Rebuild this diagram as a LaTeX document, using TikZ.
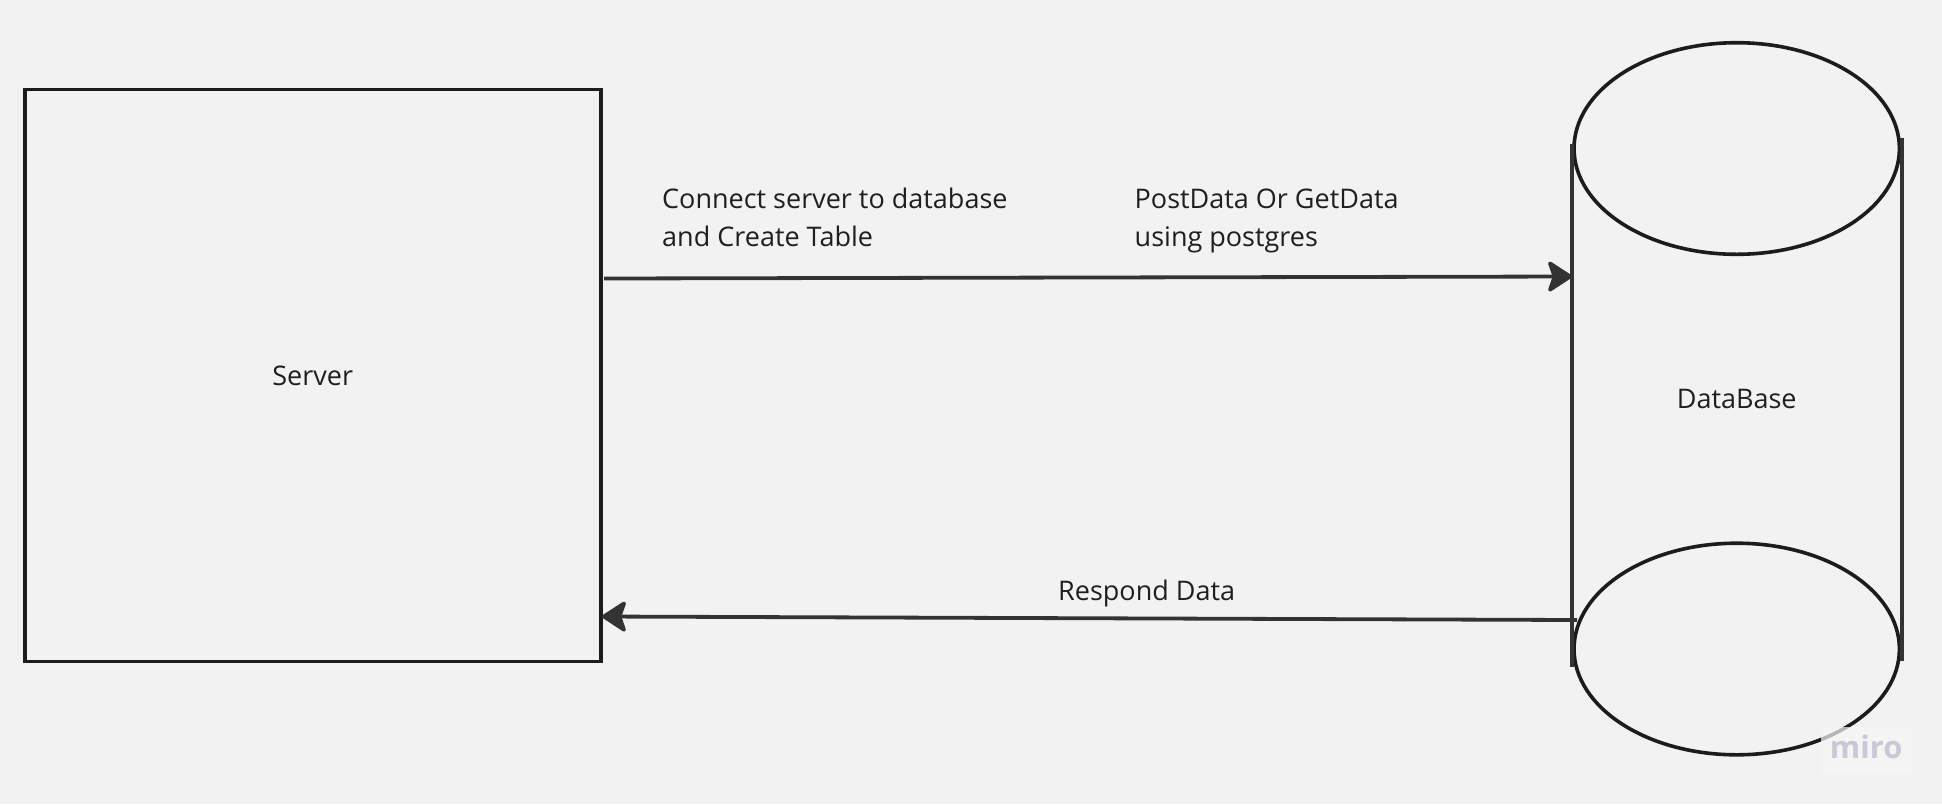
\documentclass[tikz,border=0pt]{standalone}
\usepackage{fontspec}
\setmainfont{Open Sans}
\usetikzlibrary{shapes.geometric,arrows.meta}
\definecolor{bg}{HTML}{F2F2F2}
\definecolor{ink}{HTML}{1C1C1C}
\definecolor{lineink}{HTML}{333333}
\definecolor{txt}{HTML}{1F1F1F}
\definecolor{miroc}{HTML}{C9C8D4}
\definecolor{mirobg}{HTML}{F6F6F6}
\tikzset{
  shapeline/.style={draw=ink, line width=3.6pt},
  conn/.style={draw=lineink, line width=3.8pt, arrows={-Stealth[length=27pt,width=35pt,inset=6pt,round]}},
  sideline/.style={draw=lineink, line width=3.8pt},
  lbl/.style={font=\fontsize{27}{38.5}\selectfont, text=txt, inner sep=0pt},
}
\begin{document}
\begin{tikzpicture}[x=1pt,y=-1pt]
\fill[bg] (0,0) rectangle (1942,804);
\useasboundingbox (0,0) rectangle (1942,804);
% server
\node[shapeline, rectangle, minimum width=576pt, minimum height=572pt, inner sep=0pt, lbl] (server) at (312.7,375.4) {Server};
% database cylinder
\node[shapeline, ellipse, minimum width=325.4pt, minimum height=211.6pt, inner sep=0pt] (dbtop) at (1736.7,148.5) {};
\node[shapeline, ellipse, minimum width=325.4pt, minimum height=211.6pt, inner sep=0pt] (dbbot) at (1736.7,649) {};
\coordinate (lt) at (1572,144);
\coordinate (lb) at (1572,666.7);
\coordinate (rt) at (1901.7,137.7);
\coordinate (rb) at (1901.7,661);
\draw[sideline] (lt) -- (lb);
\draw[sideline] (rt) -- (rb);
\node[lbl] (db) at (1736.7,399) {DataBase};
% connectors
\coordinate (a1) at (604,278.5);
\coordinate (a2) at (1572,276.5);
\draw[conn] (a1) -- (a2);
\coordinate (b1) at (1577,620);
\coordinate (b2) at (602,616.5);
\draw[conn] (b1) -- (b2);
% labels
\node[lbl, anchor=base west, align=left] (l1) at (662,246.5) {Connect server to database\\and Create Table};
\node[lbl, anchor=base west, align=left] (l2) at (1134.5,246.5) {PostData Or GetData\\using postgres};
\node[lbl, anchor=base west] (l3) at (1058,600.5) {Respond Data};
% watermark
\fill[mirobg, fill opacity=0.7] (1820.7,726.7) rectangle (1911.7,773);
\node[font=\fontsize{31}{31}\selectfont\bfseries, text=miroc, inner sep=0pt, anchor=base] (miro) at (1866.2,758) {miro};
\end{tikzpicture}
\end{document}
